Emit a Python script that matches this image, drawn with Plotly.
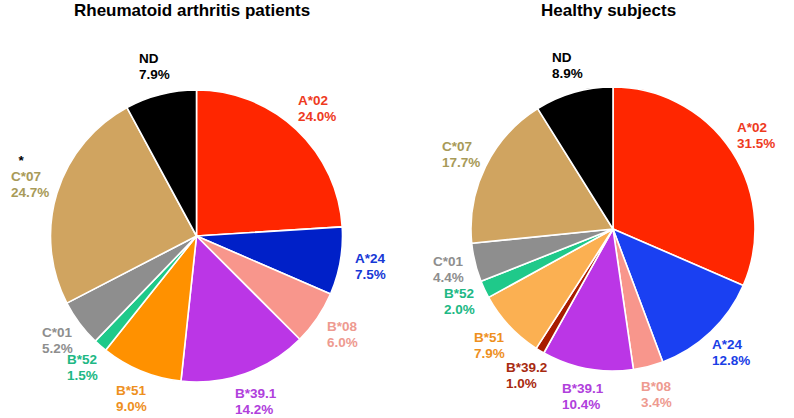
import math
import plotly.graph_objects as go

W, H = 794, 418

ra_labels = ["A*02", "A*24", "B*08", "B*39.1", "B*51", "B*52", "C*01", "C*07", "ND"]
ra_values = [24.0, 7.5, 6.0, 14.2, 9.0, 1.5, 5.2, 24.7, 7.9]
ra_colors = ["#FF2600", "#0020C8", "#F8968C", "#BB36E6", "#FF9100", "#1FC98A", "#8E8E8E", "#D0A460", "#000000"]
ra_text_colors = ["#EE3A1E", "#1638D6", "#EE9A90", "#B040DC", "#EE901E", "#20B884", "#8E8E8E", "#A89A58", "#000000"]
ra_marks = ["", "", "", "", "", "", "", "*", ""]

hs_labels = ["A*02", "A*24", "B*08", "B*39.1", "B*39.2", "B*51", "B*52", "C*01", "C*07", "ND"]
hs_values = [31.5, 12.8, 3.4, 10.4, 1.0, 7.9, 2.0, 4.4, 17.7, 8.9]
hs_colors = ["#FF2600", "#1A40F2", "#F8968C", "#BB36E6", "#A81C00", "#FBB052", "#1FC98A", "#8E8E8E", "#D0A460", "#000000"]
hs_text_colors = ["#EE3A1E", "#1A40E6", "#EE9A90", "#B040DC", "#A82A10", "#EE901E", "#20B884", "#8E8E8E", "#A89A58", "#000000"]
hs_marks = [""] * len(hs_labels)

titles = ["Rheumatoid arthritis patients", "Healthy subjects"]
title_x = [192, 608]
domains = [
    dict(x=[50.5 / W, 342.5 / W], y=[1 - 382 / H, 1 - 90 / H]),
    dict(x=[471 / W, 755 / W], y=[1 - 371 / H, 1 - 87 / H]),
]
FONT = "Liberation Sans, Arial"
FS = 13.5
LINE = 16
LABEL_R = 1.2

# approximate Arial Bold advance widths (em)
CW = {"0": .556, "1": .556, "2": .556, "3": .556, "4": .556, "5": .556, "6": .556, "7": .556,
      "8": .556, "9": .556, ".": .278, "%": .889, "*": .389, "A": .722, "B": .722, "C": .722,
      "N": .722, "D": .722}


def text_w(s):
    return sum(CW.get(c, .6) for c in s) * FS


fig = go.Figure()
datasets = [
    (ra_labels, ra_values, ra_colors, ra_text_colors, ra_marks),
    (hs_labels, hs_values, hs_colors, hs_text_colors, hs_marks),
]
for k, (labels, values, colors, tcolors, marks) in enumerate(datasets):
    dom = domains[k]
    fig.add_trace(go.Pie(
        labels=labels, values=values, sort=False, direction="clockwise", rotation=0,
        marker=dict(colors=colors, line=dict(color="white", width=1.6)),
        textinfo="none", textposition="none",
        domain=dom, showlegend=False, hoverinfo="label+value",
    ))
    # pie geometry derived from domain (plotly uses min(w,h)/2 as radius)
    x0, x1 = dom["x"][0] * W, dom["x"][1] * W
    y0, y1 = (1 - dom["y"][1]) * H, (1 - dom["y"][0]) * H
    cx, cy = (x0 + x1) / 2, (y0 + y1) / 2
    r = min(x1 - x0, y1 - y0) / 2
    total = sum(values)
    cum = 0.0
    for lab, v, tc, mk in zip(labels, values, tcolors, marks):
        mid = (cum + v / 2) / total * 2 * math.pi
        cum += v
        px = cx + LABEL_R * r * math.sin(mid)
        py = cy - LABEL_R * r * math.cos(mid)
        pct = f"{v:.1f}%"
        bw = max(text_w(lab), text_w(pct))
        left = px - bw / 2
        lines = [(lab, tc, py - LINE / 2), (pct, tc, py + LINE / 2)]
        if mk:
            lines.append((f"&nbsp;&nbsp;{mk}", "#000000", py - 1.5 * LINE))
        for s, col, ly in lines:
            fig.add_annotation(text=f"<b>{s}</b>", x=left / W, y=1 - ly / H, xref="paper", yref="paper",
                               xanchor="left", yanchor="middle", align="left", showarrow=False,
                               borderpad=0, font=dict(family=FONT, size=FS, color=col))
    fig.add_annotation(text=f"<b>{titles[k]}</b>", x=title_x[k] / W, y=1 - 11 / H, xref="paper", yref="paper",
                       xanchor="center", yanchor="middle", showarrow=False,
                       font=dict(family=FONT, size=17, color="black"))

fig.update_layout(width=W, height=H, margin=dict(l=0, r=0, t=0, b=0),
                  paper_bgcolor="white", plot_bgcolor="white",
                  font=dict(family=FONT))
fig.write_html("out.html")
